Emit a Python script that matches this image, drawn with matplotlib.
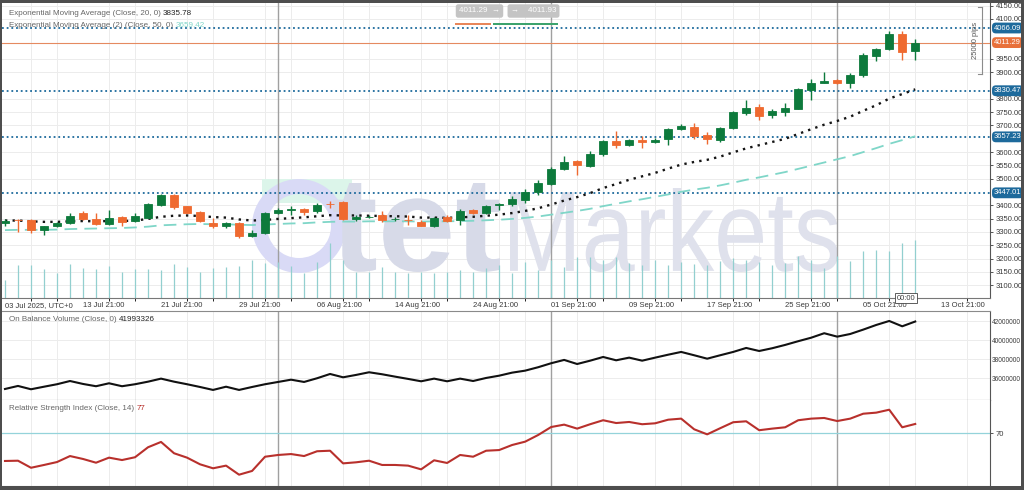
import matplotlib
matplotlib.use('Agg')
import numpy as np
import matplotlib.pyplot as plt
from matplotlib.patches import Rectangle, PathPatch, Annulus
from matplotlib.textpath import TextPath
from matplotlib.font_manager import FontProperties
from matplotlib.transforms import Affine2D, IdentityTransform

plt.rcParams['font.family'] = ['Liberation Sans', 'DejaVu Sans']

# daily XAUUSD candles, 03 Jul 2025 onwards
opens = [3333, 3345, 3346, 3308, 3321, 3333, 3371, 3348, 3331, 3356,
         3343, 3354, 3402, 3440, 3396, 3375, 3333, 3321, 3333, 3283,
         3298, 3371, 3381, 3388, 3377, 3406, 3411, 3348, 3357, 3365,
         3349, 3346, 3339, 3323, 3358, 3346, 3381, 3373, 3401, 3405,
         3421, 3452, 3481, 3537, 3565, 3549, 3591, 3640, 3628, 3647,
         3637, 3650, 3687, 3695, 3663, 3647, 3690, 3748, 3769, 3741,
         3750, 3763, 3832, 3861, 3872, 3861, 3888, 3961, 3986, 4043,
         3980]
highs = [3350, 3348, 3350, 3323, 3336, 3373, 3377, 3372, 3383, 3361,
         3371, 3409, 3444, 3444, 3399, 3380, 3352, 3339, 3339, 3308,
         3375, 3390, 3399, 3390, 3409, 3415, 3415, 3365, 3363, 3377,
         3355, 3365, 3346, 3358, 3365, 3386, 3386, 3402, 3409, 3434,
         3461, 3496, 3544, 3584, 3572, 3603, 3647, 3678, 3650, 3660,
         3653, 3691, 3707, 3710, 3675, 3695, 3754, 3794, 3779, 3760,
         3785, 3842, 3873, 3901, 3876, 3896, 3974, 3992, 4055, 4055,
         4026]
lows = [3323, 3301, 3297, 3289, 3318, 3331, 3346, 3327, 3327, 3321,
        3339, 3352, 3396, 3386, 3371, 3339, 3315, 3315, 3277, 3281,
        3293, 3368, 3365, 3365, 3371, 3390, 3346, 3343, 3353, 3339,
        3342, 3327, 3321, 3318, 3339, 3327, 3368, 3368, 3383, 3396,
        3409, 3440, 3478, 3531, 3515, 3544, 3587, 3616, 3624, 3616,
        3635, 3628, 3682, 3650, 3632, 3637, 3685, 3741, 3722, 3729,
        3735, 3760, 3795, 3858, 3854, 3842, 3883, 3942, 3983, 3946,
        3946]
closes = [3343, 3344, 3308, 3321, 3332, 3361, 3350, 3331, 3352, 3339,
          3361, 3405, 3440, 3394, 3373, 3342, 3321, 3333, 3283, 3298,
          3371, 3381, 3388, 3376, 3402, 3404, 3348, 3358, 3358, 3346,
          3350, 3345, 3323, 3352, 3343, 3377, 3371, 3399, 3405, 3424,
          3452, 3484, 3538, 3563, 3550, 3593, 3641, 3628, 3644, 3637,
          3647, 3685, 3697, 3662, 3650, 3691, 3750, 3766, 3737, 3754,
          3766, 3838, 3861, 3867, 3858, 3888, 3963, 3989, 4043, 3977,
          4011.29]
tick_volume = [18, 33, 33, 29, 25, 34, 30, 29, 32, 26,
               29, 29, 28, 34, 31, 26, 30, 31, 32, 38,
               35, 36, 32, 25, 36, 55, 38, 26, 26, 31,
               26, 25, 26, 25, 26, 28, 26, 30, 33, 25,
               36, 28, 38, 31, 41, 41, 38, 41, 35, 33,
               38, 33, 36, 34, 33, 37, 40, 38, 36, 33,
               35, 42, 38, 30, 42, 37, 47, 48, 47, 55,
               58]
ema20 = [3343, 3343, 3340, 3338, 3338, 3340, 3341, 3340, 3341, 3341,
         3343, 3349, 3357, 3361, 3362, 3360, 3356, 3354, 3347, 3343,
         3345, 3349, 3352, 3355, 3359, 3363, 3362, 3362, 3361, 3360,
         3359, 3358, 3354, 3354, 3353, 3355, 3357, 3361, 3365, 3371,
         3379, 3389, 3403, 3418, 3431, 3446, 3465, 3480, 3496, 3509,
         3522, 3538, 3553, 3563, 3571, 3583, 3599, 3614, 3626, 3638,
         3650, 3668, 3686, 3703, 3717, 3733, 3755, 3776, 3801, 3818,
         3835.78]
ema50 = [3307, 3308, 3308, 3308, 3309, 3311, 3312, 3313, 3314, 3315,
         3317, 3320, 3325, 3327, 3329, 3330, 3329, 3329, 3327, 3326,
         3328, 3330, 3332, 3333, 3336, 3338, 3339, 3339, 3340, 3340,
         3340, 3340, 3339, 3340, 3340, 3341, 3342, 3344, 3346, 3349,
         3353, 3358, 3365, 3372, 3379, 3387, 3397, 3406, 3415, 3423,
         3432, 3441, 3451, 3459, 3466, 3475, 3485, 3496, 3505, 3515,
         3525, 3537, 3549, 3561, 3573, 3585, 3600, 3615, 3631, 3645,
         3659.42]
obv_millions = [34.89, 35.21, 34.86, 35.13, 35.39, 35.73, 35.42, 35.18, 35.49, 35.18,
                35.39, 35.66, 35.98, 35.66, 35.39, 35.10, 34.79, 35.13, 34.79, 35.10,
                35.39, 35.63, 35.87, 35.63, 36.02, 36.47, 36.12, 36.37, 36.65, 36.44,
                36.19, 35.95, 35.70, 35.98, 35.70, 35.98, 35.73, 36.05, 36.29, 36.61,
                36.82, 37.18, 37.60, 37.95, 37.52, 37.87, 38.26, 37.91, 38.19, 37.87,
                38.19, 38.50, 38.79, 38.44, 38.08, 38.44, 38.79, 39.21, 38.89, 39.18,
                39.53, 39.92, 40.29, 40.76, 40.40, 40.68, 41.14, 41.63, 42.05, 41.49,
                41.993326]
rsi14 = [49.2, 49.4, 44.1, 46.2, 48.4, 52.9, 50.7, 47.9, 51.7, 49.9,
         52.0, 59.5, 63.5, 55.0, 51.7, 46.7, 43.7, 45.7, 38.9, 41.7,
         52.4, 53.7, 54.4, 52.9, 56.5, 56.9, 47.4, 48.2, 49.4, 46.2,
         46.2, 45.7, 42.9, 49.7, 47.7, 53.7, 52.4, 56.9, 57.4, 61.2,
         63.7, 68.7, 74.7, 76.5, 73.5, 76.8, 79.8, 77.7, 78.5, 76.8,
         77.5, 80.2, 81.0, 73.0, 69.2, 73.8, 78.3, 79.0, 72.3, 73.5,
         74.5, 79.8, 81.0, 81.5, 79.2, 81.0, 84.7, 85.5, 87.7, 74.5,
         77.0]

date_ticks = [0, 6, 12, 18, 24, 30, 36, 42, 48, 54, 60, 66, 72]
date_labels = ['03 Jul 2025, UTC+0', '13 Jul 21:00', '21 Jul 21:00', '29 Jul 21:00',
               '06 Aug 21:00', '14 Aug 21:00', '24 Aug 21:00', '01 Sep 21:00',
               '09 Sep 21:00', '17 Sep 21:00', '25 Sep 21:00', '05 Oct 21:00',
               '13 Oct 21:00']
month_starts = [21, 42, 64]
sr_levels = [4066.09, 3830.47, 3657.23, 3447.01]
bid_price = 4011.29
ask_price = 4011.93
rsi_level = 70
price_ticks = [3100, 3150, 3200, 3250, 3300, 3350, 3400, 3500, 3550, 3600,
               3700, 3750, 3800, 3900, 3950, 4100, 4150]
obv_ticks = [36000000, 38000000, 40000000, 42000000]

W, H = 1024, 490
GREEN = '#0d7a3c'
ORANGE = '#ef6a30'
BLUE = '#1d6a9c'
GRID = '#ececec'
TXT = '#3a3a3a'


def rect(x0, y0, x1, y1):
    return [x0 / W, 1 - y1 / H, (x1 - x0) / W, (y1 - y0) / H]


fig = plt.figure(figsize=(W / 100, H / 100), dpi=100)
fig.patch.set_facecolor('white')

ax = fig.add_axes(rect(2, 3, 990, 298))
ax_obv = fig.add_axes(rect(2, 311, 990, 400), sharex=ax)
ax_rsi = fig.add_axes(rect(2, 400, 990, 486), sharex=ax)

x = np.arange(len(closes))
o = np.array(opens)
c = np.array(closes)

for a in (ax, ax_obv, ax_rsi):
    a.set_facecolor('white')
    a.set_axisbelow(True)
    a.yaxis.tick_right()
    a.tick_params(axis='y', length=2, pad=2, labelsize=5.5, colors=TXT, width=0.6)
    a.set_xticks(np.arange(0, 76, 2), minor=True)
    a.grid(True, which='minor', axis='x', color=GRID, lw=0.7)
    a.grid(True, which='major', axis='y', color=GRID, lw=0.7)
    for s in ('top', 'left'):
        a.spines[s].set_visible(False)
    a.spines['right'].set_color('#555555')
    a.spines['bottom'].set_color('#8a8a8a')
    a.spines['bottom'].set_linewidth(0.8)
    for m in month_starts:
        a.axvline(m, color='#a0a0a0', lw=1.0, zorder=0.8)

ax.set_xlim(-0.23, 75.75)
ax.set_ylim(3052, 4160)

# watermark logo
cx, cy = 299, 226
ax.add_patch(Rectangle((262, H - 203), 90, 24, transform=IdentityTransform(),
                       fc='#dcf5ea', ec='none', zorder=0.6))
ax.add_patch(Annulus((cx, H - cy), 47, 15, transform=IdentityTransform(),
                     fc='#d9daf6', ec='none', zorder=0.6))


def logo_word(text, x0, y0, x1, y1, color, weight):
    path = TextPath((0, 0), text, size=100,
                    prop=FontProperties(family='Liberation Sans', weight=weight))
    bb = path.get_extents()
    tr = (Affine2D().translate(-bb.x0, -bb.y0)
          .scale((x1 - x0) / bb.width, (y1 - y0) / bb.height)
          .translate(x0, H - y1))
    ax.add_patch(PathPatch(tr.transform_path(path), transform=IdentityTransform(),
                           fc=color, ec='none', zorder=0.6))


logo_word('tet', 333, 183, 500, 272, '#d7dae8', 'bold')
logo_word('Markets', 510, 188, 838, 272, '#dfe1ec', 'normal')

# tick volume along the bottom of the price panel
vol_top = max(tick_volume) * 5.05
ax.vlines(x, 0, np.array(tick_volume) / vol_top, transform=ax.get_xaxis_transform(),
          colors='#92cfcf', lw=0.9, zorder=1)

for lvl in sr_levels:
    ax.axhline(lvl, color=BLUE, ls=(0, (1, 1.6)), lw=1.3, zorder=2)
ax.axhline(bid_price, color='#e58a60', lw=0.8, zorder=2)

ax.plot(x, ema50, color='#7fd6c8', ls=(0, (7, 4)), lw=1.3, zorder=2.5)
ax.plot(x, ema20, color='#151515', ls=(0, (1, 2.2)), lw=1.7, zorder=2.5)

cols = np.where(c >= o, GREEN, ORANGE)
ax.vlines(x, lows, highs, colors=cols, lw=1.0, zorder=3)
ax.bar(x, np.abs(c - o), bottom=np.minimum(o, c), width=0.6, color=cols,
       edgecolor=cols, lw=0.6, zorder=4)

ax.set_yticks(price_ticks)
ax.set_yticklabels(['%.2f' % v for v in price_ticks])
ax.set_xticks(date_ticks)
ax.set_xticklabels(date_labels, ha='left')
ax.tick_params(axis='x', length=0, pad=3, labelsize=5.5, colors=TXT)
ax.spines['bottom'].set_color('#777777')

# price tags on the right scale
tag_tr = ax.get_yaxis_transform()
for lvl in sr_levels:
    ax.text(1.004, lvl, '%.2f' % lvl, transform=tag_tr, fontsize=5.5, color='white',
            va='center', ha='left', clip_on=False, zorder=20,
            bbox=dict(boxstyle='round,pad=0.25,rounding_size=0.5', fc=BLUE, ec='none'))
ax.text(1.004, bid_price, '%.2f' % bid_price, transform=tag_tr, fontsize=5.5,
        color='white', va='center', ha='left', clip_on=False, zorder=20,
        bbox=dict(boxstyle='round,pad=0.25,rounding_size=0.5', fc='#e8703a', ec='none'))

# 25000 pips ruler
ax.plot([0.992, 0.992], [3895, 4145], transform=tag_tr, color='#8c8c8c', lw=0.8,
        clip_on=False, zorder=10)
for yy in (3895, 4145):
    ax.plot([0.988, 0.992], [yy, yy], transform=tag_tr, color='#8c8c8c', lw=0.8,
            clip_on=False, zorder=10)
ax.text(0.9855, 4020, '25000 pips', transform=tag_tr, rotation=90, fontsize=5.5,
        color='#555555', ha='center', va='center', zorder=10)

# current bar time marker
ax.text(69.3, 0.0, '00:00', transform=ax.get_xaxis_transform(), fontsize=5.5,
        color=TXT, ha='center', va='center', clip_on=False, zorder=20,
        bbox=dict(boxstyle='square,pad=0.2', fc='white', ec='#444444', lw=0.6))

# indicator captions
t1 = ax.text(0.007, 0.963, 'Exponential Moving Average (Close, 20, 0) ', transform=ax.transAxes,
             fontsize=5.8, color='#666666', va='center', ha='left', zorder=20)
ax.annotate('3835.78', xy=(1, 0), xycoords=t1, va='bottom', ha='left',
            fontsize=5.8, color='#222222', zorder=20)
t2 = ax.text(0.007, 0.925, 'Exponential Moving Average (2) (Close, 50, 0) ', transform=ax.transAxes,
             fontsize=5.8, color='#666666', va='center', ha='left', zorder=20)
ax.annotate('3659.42', xy=(1, 0), xycoords=t2, va='bottom', ha='left',
            fontsize=5.8, color='#7fd6c8', zorder=20)

# on balance volume
ax_obv.plot(x, np.array(obv_millions) * 1e6, color='#111111', lw=1.5, zorder=3)
ax_obv.set_ylim(33.73e6, 43.1e6)
ax_obv.set_yticks(obv_ticks)
ax_obv.set_yticklabels(['%d' % v for v in obv_ticks])
ax_obv.tick_params(axis='y', length=0, pad=1.5, labelsize=4.7)
ax_obv.tick_params(axis='x', labelbottom=False, length=0)
ax_obv.spines['bottom'].set_color('#555555')
ax_obv.spines['top'].set_visible(True)
ax_obv.spines['top'].set_color('#8a8a8a')
t3 = ax_obv.text(0.007, 0.9, 'On Balance Volume (Close, 0) ', transform=ax_obv.transAxes,
                 fontsize=5.8, color='#666666', va='center', ha='left', zorder=20)
ax_obv.annotate('41993326', xy=(1, 0), xycoords=t3, va='bottom', ha='left',
                fontsize=5.8, color='#222222', zorder=20)

# relative strength index
ax_rsi.plot(x, rsi14, color='#b8302c', lw=1.5, zorder=3)
ax_rsi.axhline(rsi_level, color='#94d3da', lw=0.9, zorder=2)
ax_rsi.set_ylim(30.4, 95)
ax_rsi.set_yticks([rsi_level])
ax_rsi.set_yticklabels(['70'])
ax_rsi.tick_params(axis='x', labelbottom=False, length=0)
ax_rsi.grid(False, axis='y')
t4 = ax_rsi.text(0.007, 0.9, 'Relative Strength Index (Close, 14) ', transform=ax_rsi.transAxes,
                 fontsize=5.8, color='#666666', va='center', ha='left', zorder=20)
ax_rsi.annotate('77', xy=(1, 0), xycoords=t4, va='bottom', ha='left',
                fontsize=5.8, color='#b8302c', zorder=20)

# bid / ask quick boxes at the top
fig.text(479.5 / W, 1 - 11 / H, '%.2f  \u2192' % bid_price, ha='center', va='center',
         fontsize=5.8, color='white', zorder=30,
         bbox=dict(boxstyle='round,pad=0.4,rounding_size=0.3', fc='#c4c4c4', ec='none'))
fig.text(533.5 / W, 1 - 11 / H, '\u2192    %.2f' % ask_price, ha='center', va='center',
         fontsize=5.8, color='white', zorder=30,
         bbox=dict(boxstyle='round,pad=0.4,rounding_size=0.3', fc='#c4c4c4', ec='none'))
fig.add_artist(Rectangle((455 / W, 1 - 25 / H), 36 / W, 2.2 / H, transform=fig.transFigure,
                         fc='#e8875a', ec='none', zorder=30))
fig.add_artist(Rectangle((493 / W, 1 - 25 / H), 65 / W, 2.2 / H, transform=fig.transFigure,
                         fc='#3ca36e', ec='none', zorder=30))

# window frame
frame = '#4e4e4e'
for (x0, y0, x1, y1) in [(0, 0, W, 3), (0, 0, 2, H), (0, 486, W, H), (1021, 0, W, H)]:
    fig.add_artist(Rectangle((x0 / W, 1 - y1 / H), (x1 - x0) / W, (y1 - y0) / H,
                             transform=fig.transFigure, fc=frame, ec='none', zorder=40))

fig.savefig('out.png', dpi=100, facecolor=fig.get_facecolor())
